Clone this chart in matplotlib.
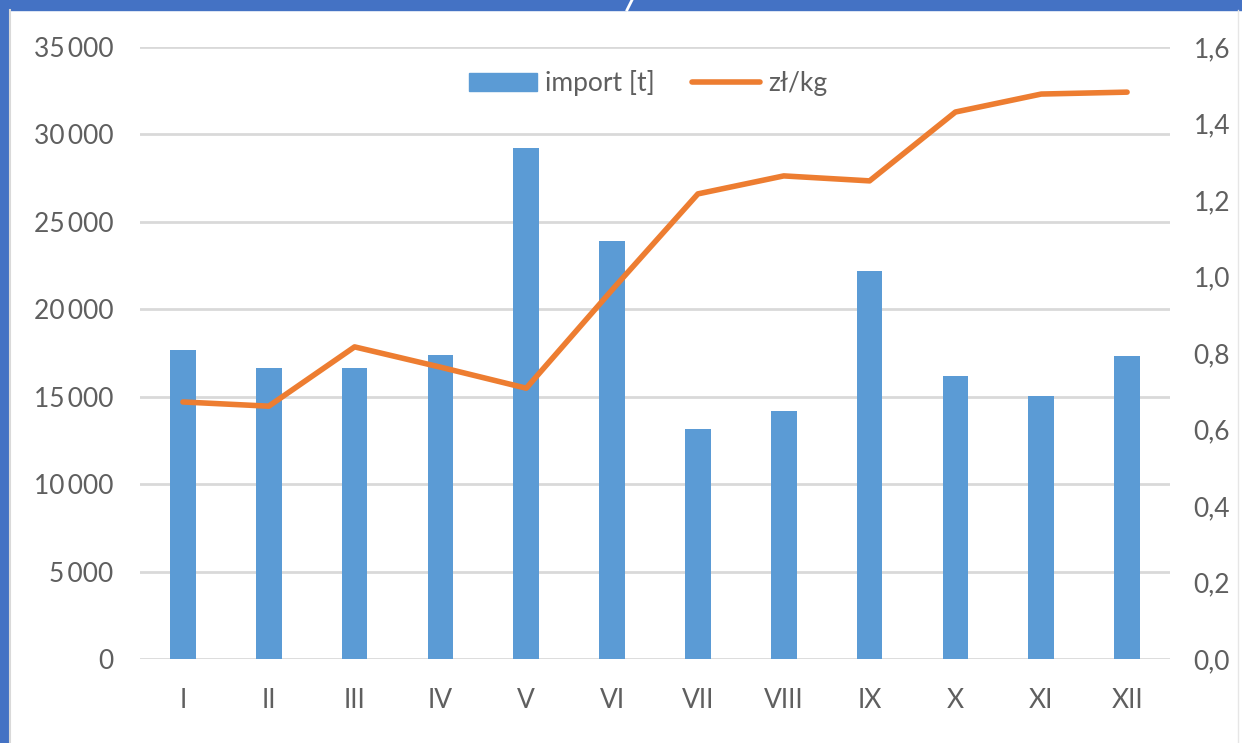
import matplotlib
matplotlib.use("Agg")
import matplotlib.pyplot as plt
from matplotlib.patches import Rectangle
from matplotlib.lines import Line2D
from matplotlib.ticker import FuncFormatter, MultipleLocator

months = ['I', 'II', 'III', 'IV', 'V', 'VI', 'VII', 'VIII', 'IX', 'X', 'XI', 'XII']
import_t = [17700, 16650, 16650, 17400, 29200, 23900, 13150, 14200, 22200, 16200, 15050, 17300]
price_zl_kg = [0.672, 0.661, 0.816, 0.763, 0.708, 0.965, 1.216, 1.263, 1.250, 1.430, 1.477, 1.482]

plt.rcParams['font.family'] = ['Lato', 'DejaVu Sans']
grey = '#5f5f5f'

fig = plt.figure(figsize=(12.42, 7.43), dpi=100)
ax = fig.add_axes([140 / 1242, 84 / 743, 1030 / 1242, 612 / 743])

x = list(range(len(months)))
ax.bar(x, import_t, width=0.3, color='#5B9BD5', zorder=3, label='import [t]')
ax.set_xlim(-0.5, len(months) - 0.5)
ax.set_ylim(0, 35000)
ax.yaxis.set_major_locator(MultipleLocator(5000))
ax.yaxis.set_major_formatter(FuncFormatter(lambda v, p: f"{int(v):,}".replace(',', '\u2009') if v else '0'))
ax.set_xticks(x)
ax.set_xticklabels(months)
ax.grid(axis='y', color='#d9d9d9', linewidth=2, zorder=0)
for s in ax.spines.values():
    s.set_visible(False)
ax.tick_params(length=0, labelsize=19, colors=grey, pad=19)
ax.tick_params(axis='x', pad=21)

ax2 = ax.twinx()
ax2.plot(x, price_zl_kg, color='#ED7D31', linewidth=4, solid_capstyle='round', zorder=4, label='zł/kg')
ax2.set_ylim(0, 1.6)
ax2.yaxis.set_major_locator(MultipleLocator(0.2))
ax2.yaxis.set_major_formatter(FuncFormatter(lambda v, p: f"{v:.1f}".replace('.', ',')))
for s in ax2.spines.values():
    s.set_visible(False)
ax2.tick_params(length=0, labelsize=19, colors=grey, pad=17)

handles = [Rectangle((0, 0), 1, 1, color='#5B9BD5'),
           Line2D([0], [0], color='#ED7D31', linewidth=4, solid_capstyle='round')]
leg = fig.legend(handles, ['import [t]', 'zł/kg'], loc='center', bbox_to_anchor=(648 / 1242, 1 - 83 / 743),
                 ncol=2, frameon=False, fontsize=19, handlelength=2.6, handletextpad=0.3, columnspacing=1.4)
for t in leg.get_texts():
    t.set_color(grey)

# screenshot frame: blue strips on the left and top
fig.patches.append(Rectangle((0, 0), 9 / 1242, 1, transform=fig.transFigure, color='#4472C4', zorder=10))
fig.patches.append(Rectangle((0, 1 - 10 / 743), 1, 10 / 743, transform=fig.transFigure, color='#4472C4', zorder=10))
fig.lines.append(Line2D([627 / 1242, 632 / 1242], [1 - 10 / 743, 1], transform=fig.transFigure, color='white', linewidth=2, zorder=11))
fig.lines.append(Line2D([10 / 1242, 10 / 1242], [0, 1 - 10 / 743], transform=fig.transFigure, color='#d9d9d9', linewidth=1.5, zorder=11))
fig.lines.append(Line2D([1238 / 1242, 1238 / 1242], [0, 1 - 10 / 743], transform=fig.transFigure, color='#e6e6e6', linewidth=1, zorder=11))

fig.savefig('out.png', dpi=100)
